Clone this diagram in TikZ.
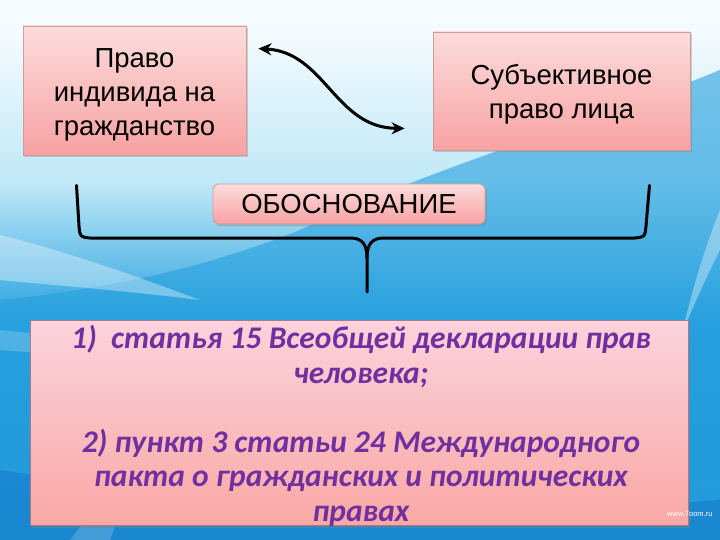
\documentclass[tikz,border=0pt]{standalone}
\usepackage{fontspec}
\setmainfont{Liberation Sans}
\newfontfamily\carl{Carlito}
\usetikzlibrary{shadows,calc,arrows.meta}
\definecolor{pinktop}{HTML}{FCDCDC}
\definecolor{pinkbot}{HTML}{F8A2A2}
\definecolor{pinkline}{HTML}{D39A9A}
\definecolor{bigtop}{HTML}{FBD3DC}
\definecolor{bigbot}{HTML}{F9A8A4}
\definecolor{bigline}{HTML}{A87A8C}
\definecolor{purp}{HTML}{7030A0}
\definecolor{bgA}{HTML}{0C66C0}
\definecolor{bgB}{HTML}{1887D4}
\definecolor{bgC}{HTML}{26A0DE}
\definecolor{bgD}{HTML}{BFE8F7}
\definecolor{bgE}{HTML}{F4FBFE}
\pgfdeclareverticalshading{bgshade}{100bp}{color(0bp)=(bgA); color(15bp)=(bgB); color(45bp)=(bgC); color(58bp)=(bgD); color(72bp)=(bgE); color(100bp)=(white)}
\tikzset{
  pinkbox/.style={draw=pinkline, line width=0.8pt, top color=pinktop, bottom color=pinkbot,
    drop shadow={shadow xshift=2pt, shadow yshift=-2.5pt, opacity=0.35}, align=center,
    font=\fontsize{27.5}{34}\selectfont, inner sep=0pt},
  pinktext/.style={align=center, font=\fontsize{27.5}{34}\selectfont, inner sep=0pt},
  bigbox/.style={draw=bigline, line width=0.8pt, top color=bigtop, bottom color=bigbot,
    drop shadow={shadow xshift=2pt, shadow yshift=-2.5pt, opacity=0.4}, align=center, inner sep=0pt},
  arr/.style={line width=3pt, line cap=round, {Stealth[length=13pt,width=12pt]}-{Stealth[length=13pt,width=12pt]}},
  bracel/.style={line width=3pt, line join=round, line cap=round}
}
\begin{document}
\begin{tikzpicture}[x=1pt,y=-1pt]
\useasboundingbox (0,0) rectangle (720,540);
% background
\shade[shading=bgshade] (0,0) rectangle (720,540);
\fill[bgC, opacity=0.6] (720,70) .. controls (600,120) and (450,160) .. (300,230) .. controls (200,270) and (100,290) .. (0,300) -- (0,540) -- (720,540) -- cycle;
\fill[white, opacity=0.35] (0,235) .. controls (60,250) and (120,270) .. (200,300) .. controls (120,290) and (50,285) .. (0,280) -- cycle;
\fill[white, opacity=0.2] (0,330) .. controls (150,345) and (300,350) .. (450,345) .. controls (300,365) and (120,360) .. (0,350) -- cycle;
\fill[white, opacity=0.35] (720,210) .. controls (700,260) and (690,300) .. (680,340) .. controls (695,300) and (710,270) .. (720,250) -- cycle;
\fill[white, opacity=0.3] (70,540) .. controls (100,500) and (130,470) .. (170,440) .. controls (140,480) and (120,510) .. (110,540) -- cycle;
\fill[bgA, opacity=0.35] (0,470) .. controls (200,500) and (450,520) .. (720,500) -- (720,540) -- (0,540) -- cycle;
% boxes
\node[pinkbox, minimum width=223pt, minimum height=129pt] (b1) at (134.5,90.5) {};
\node[pinktext] (b1t) at ($(b1.center)+(0,4)$) {Право\\индивида на\\гражданство};
\node[pinkbox, minimum width=257pt, minimum height=118pt] (b2) at (561.5,91) {};
\node[pinktext] (b2t) at ($(b2.center)+(0,3.5)$) {Субъективное\\право лица};
\node[pinkbox, rounded corners=6pt, minimum width=272pt, minimum height=40pt] (osn) at (349,204) {ОБОСНОВАНИЕ};
\node[bigbox, minimum width=658pt, minimum height=205pt] (b3) at (359,422.5) {};
\node[text=purp, align=center, font=\carl\bfseries\itshape\fontsize{31.5}{34.5}\selectfont] (t3) at (361,426)
 {1)\ \ статья 15 Всеобщей декларации прав\\человека;\\[34.5pt]2) пункт 3 статьи 24 Международного\\пакта о гражданских и политических\\правах};
\node[text=white, font=\fontsize{7.5}{9}\selectfont, anchor=east] (wm) at (716,514) {www.7oom.ru};
% arrow
\coordinate (a1) at ($(b1.north east)+(12,23)$);
\coordinate (a2) at ($(b2.south west)+(-28,-22)$);
\draw[arr] (a1) .. controls (325,52) and (335,128) .. (a2);
% brace
\coordinate (lt) at ($(b1.south)+(-58,30)$);
\coordinate (rt) at ($(b2.south)+(88,35)$);
\coordinate (tip) at (367,292);
\draw[bracel] (lt) -- (79,226) .. controls (80,237) .. (90,238) -- (350,238) .. controls (362,238) and (367,244) .. (367,258) -- (tip);
\draw[bracel] (rt) -- (646,226) .. controls (645,237) .. (635,238) -- (384,238) .. controls (372,238) and (367,244) .. (367,258);
\end{tikzpicture}
\end{document}
